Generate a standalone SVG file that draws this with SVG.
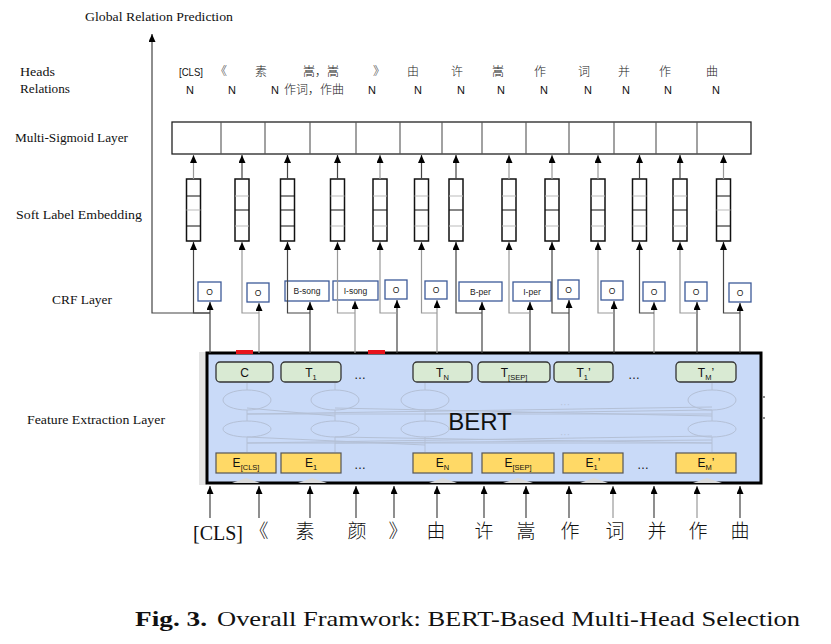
<svg xmlns="http://www.w3.org/2000/svg" width="831" height="644" viewBox="0 0 831 644">
<style>
.lbl{font-family:"Liberation Serif",serif;font-size:13px;fill:#111}
.cjk{font-family:"Noto Sans CJK SC",sans-serif;font-size:12px;fill:#222;font-weight:300}
.nn{font-family:"Liberation Sans",sans-serif;font-size:11px;fill:#111}
.tok{font-family:"Liberation Serif","Noto Sans CJK SC",serif;font-size:20px;fill:#111}
.tokc{font-family:"Noto Sans CJK SC",sans-serif;font-size:19px;fill:#111;font-weight:300}
.col{fill:#fff;stroke:#111;stroke-width:1.5}
.cl{stroke:#111;stroke-width:1}
.cg{stroke:#bbb;stroke-width:1}
.crf{fill:#fff;stroke:#3c5a99;stroke-width:1.3}
.crft{font-family:"Liberation Sans",sans-serif;font-size:8.5px;fill:#222;text-anchor:middle}
.tb{fill:#d9ead3;stroke:#333;stroke-width:1.3}
.eb{fill:#ffd966;stroke:#555;stroke-width:1.2}
.bt{font-family:"Liberation Sans",sans-serif;font-size:12px;fill:#111;text-anchor:middle}
.sub{font-size:7.5px}
.ln{fill:none;stroke:#444;stroke-width:1.2}
.lg{fill:none;stroke:#999;stroke-width:1.2}
.faint{fill:none;stroke:#b4c0d6;stroke-width:1}
</style>
<defs>
<marker id="ah" viewBox="0 0 8 7" refX="8" refY="3.5" markerWidth="8" markerHeight="7" orient="auto" markerUnits="userSpaceOnUse"><path d="M0,0 L8,3.5 L0,7 z" fill="#000"/></marker>
</defs>
<rect width="831" height="644" fill="#fff"/>

<!-- left labels -->
<g id="labels">
<text class="lbl" x="85" y="21" textLength="148" lengthAdjust="spacingAndGlyphs">Global Relation Prediction</text>
<text class="lbl" x="20" y="76" textLength="35" lengthAdjust="spacingAndGlyphs">Heads</text>
<text class="lbl" x="20" y="93" textLength="50" lengthAdjust="spacingAndGlyphs">Relations</text>
<text class="lbl" x="15" y="142" textLength="113" lengthAdjust="spacingAndGlyphs">Multi-Sigmoid Layer</text>
<text class="lbl" x="16" y="219" textLength="126" lengthAdjust="spacingAndGlyphs">Soft Label Embedding</text>
<text class="lbl" x="52" y="304" textLength="60" lengthAdjust="spacingAndGlyphs">CRF Layer</text>
<text class="lbl" x="27" y="424" textLength="138" lengthAdjust="spacingAndGlyphs">Feature Extraction Layer</text>
</g>

<!-- heads / relations -->
<g id="heads" text-anchor="middle">
<text class="nn" x="191" y="76" textLength="24" lengthAdjust="spacingAndGlyphs">[CLS]</text>
<text class="cjk" x="221" y="76">《</text>
<text class="cjk" x="261" y="76">素</text>
<text class="cjk" x="321" y="76">嵩，嵩</text>
<text class="cjk" x="379" y="76">》</text>
<text class="cjk" x="413" y="76">由</text>
<text class="cjk" x="457" y="76">许</text>
<text class="cjk" x="498" y="76">嵩</text>
<text class="cjk" x="540" y="76">作</text>
<text class="cjk" x="584" y="76">词</text>
<text class="cjk" x="624" y="76">并</text>
<text class="cjk" x="665" y="76">作</text>
<text class="cjk" x="712" y="76">曲</text>
</g>
<g id="relations" text-anchor="middle">
<text class="nn" x="190" y="94">N</text>
<text class="nn" x="232" y="94">N</text>
<text class="nn" x="275" y="94">N</text>
<text class="cjk" x="314" y="94">作词，作曲</text>
<text class="nn" x="372" y="94">N</text>
<text class="nn" x="418" y="94">N</text>
<text class="nn" x="461" y="94">N</text>
<text class="nn" x="501" y="94">N</text>
<text class="nn" x="544" y="94">N</text>
<text class="nn" x="588" y="94">N</text>
<text class="nn" x="626" y="94">N</text>
<text class="nn" x="668" y="94">N</text>
<text class="nn" x="716" y="94">N</text>
</g>

<!-- multi-sigmoid layer -->
<g id="multi-sigmoid">
<rect x="172" y="122" width="579" height="32" fill="#fff" stroke="#222" stroke-width="1.3"/>
<path d="M221,122V154M265,122V154M310,122V154M356,122V154M400,122V154M442,122V154M482,122V154M526,122V154M569,122V154M614,122V154M656,122V154M697,122V154" stroke="#555" stroke-width="1.1"/>
</g>

<!-- soft label embedding columns -->
<g id="emb1"><rect class="col" x="186.5" y="179" width="14" height="62"/><path class="cl" d="M186.5,196h14M186.5,226h14"/><path class="cg" d="M186.5,210h14"/></g>
<g id="emb2"><rect class="col" x="235" y="179" width="14" height="62"/><path class="cg" d="M235,196h14M235,226h14"/><path class="cl" d="M235,210h14"/></g>
<g id="emb3"><rect class="col" x="280.5" y="179" width="14" height="62"/><path class="cl" d="M280.5,196h14M280.5,210h14M280.5,226h14"/></g>
<g id="emb4"><rect class="col" x="330.5" y="179" width="14" height="62"/><path class="cg" d="M330.5,196h14M330.5,226h14"/><path class="cl" d="M330.5,210h14"/></g>
<g id="emb5"><rect class="col" x="373" y="179" width="14" height="62"/><path class="cg" d="M373,196h14M373,226h14"/><path class="cl" d="M373,210h14"/></g>
<g id="emb6"><rect class="col" x="414.5" y="179" width="14" height="62"/><path class="cg" d="M414.5,196h14M414.5,226h14"/><path class="cl" d="M414.5,210h14"/></g>
<g id="emb7"><rect class="col" x="449" y="179" width="14" height="62"/><path class="cg" d="M449,196h14M449,226h14"/><path class="cl" d="M449,210h14"/></g>
<g id="emb8"><rect class="col" x="502" y="179" width="14" height="62"/><path class="cg" d="M502,196h14M502,226h14"/><path class="cl" d="M502,210h14"/></g>
<g id="emb9"><rect class="col" x="545" y="179" width="14" height="62"/><path class="cg" d="M545,196h14M545,226h14"/><path class="cl" d="M545,210h14"/></g>
<g id="emb10"><rect class="col" x="591" y="179" width="14" height="62"/><path class="cg" d="M591,196h14M591,226h14"/><path class="cl" d="M591,210h14"/></g>
<g id="emb11"><rect class="col" x="632.5" y="179" width="14" height="62"/><path class="cg" d="M632.5,196h14M632.5,226h14"/><path class="cl" d="M632.5,210h14"/></g>
<g id="emb12"><rect class="col" x="673" y="179" width="14" height="62"/><path class="cg" d="M673,196h14M673,226h14"/><path class="cl" d="M673,210h14"/></g>
<g id="emb13"><rect class="col" x="716.5" y="179" width="14" height="62"/><path class="cl" d="M716.5,196h14M716.5,226h14"/><path class="cg" d="M716.5,210h14"/></g>

<!-- CRF boxes -->
<g id="crf1"><rect class="crf" x="198" y="282" width="23" height="19"/><text class="crft" x="209.5" y="295">O</text></g>
<g id="crf2"><rect class="crf" x="247" y="283" width="22" height="19"/><text class="crft" x="258" y="296">O</text></g>
<g id="crf3"><rect class="crf" x="285" y="281" width="44" height="20"/><text class="crft" x="307" y="294">B-song</text></g>
<g id="crf4"><rect class="crf" x="333" y="281" width="45" height="19"/><text class="crft" x="355.5" y="294">I-song</text></g>
<g id="crf5"><rect class="crf" x="385" y="280" width="22" height="19"/><text class="crft" x="396" y="293">O</text></g>
<g id="crf6"><rect class="crf" x="425" y="281" width="22" height="18"/><text class="crft" x="436" y="293">O</text></g>
<g id="crf7"><rect class="crf" x="459" y="282" width="43" height="19"/><text class="crft" x="480.5" y="295">B-per</text></g>
<g id="crf8"><rect class="crf" x="513" y="282" width="38" height="19"/><text class="crft" x="532" y="295">I-per</text></g>
<g id="crf9"><rect class="crf" x="558" y="280" width="21" height="19"/><text class="crft" x="568.5" y="293">O</text></g>
<g id="crf10"><rect class="crf" x="601" y="281" width="22" height="19"/><text class="crft" x="612" y="294">O</text></g>
<g id="crf11"><rect class="crf" x="643" y="282" width="22" height="19"/><text class="crft" x="654" y="295">O</text></g>
<g id="crf12"><rect class="crf" x="685" y="282" width="22" height="19"/><text class="crft" x="696" y="295">O</text></g>
<g id="crf13"><rect class="crf" x="729" y="283" width="22" height="19"/><text class="crft" x="740" y="296">O</text></g>

<!-- BERT block -->
<g id="bert">
<rect x="199" y="352" width="8" height="133" fill="#e4e4e4"/>
<rect x="207" y="353" width="554" height="130" fill="#c9daf8" stroke="#000" stroke-width="3"/>
<rect x="236" y="350" width="17" height="4" fill="#e8141c"/>
<rect x="368" y="350" width="17" height="4" fill="#e8141c"/>
<g class="faint">
<ellipse cx="247" cy="400" rx="24" ry="10"/><ellipse cx="335" cy="400" rx="24" ry="10"/><ellipse cx="425" cy="400" rx="24" ry="10"/><ellipse cx="712" cy="400" rx="24" ry="10"/>
<ellipse cx="247" cy="429" rx="24" ry="8"/><ellipse cx="335" cy="429" rx="24" ry="8"/><ellipse cx="425" cy="429" rx="24" ry="8"/><ellipse cx="712" cy="429" rx="24" ry="8"/>
<path d="M247,452V437M335,452V437M425,452V437M712,452V437M247,421V410M335,421V410M425,421V410M712,421V410M247,390V383M335,390V383M425,390V383M712,390V383"/>
<path d="M247,443L712,443M247,443L712,436M335,443L712,440M425,445L247,437M712,443L335,437M247,414L712,414M247,414L712,407M335,416L247,408M425,414L712,410M712,416L335,408"/>
</g>
<text x="560" y="408" font-family="Liberation Sans,sans-serif" font-size="10" fill="#b8c4d8">···</text>
<text x="560" y="438" font-family="Liberation Sans,sans-serif" font-size="10" fill="#b8c4d8">···</text>
<text x="480" y="430" text-anchor="middle" font-family="Liberation Sans,sans-serif" font-size="24" fill="#111">BERT</text>
<path d="M763,397h2M763,418h2" stroke="#888" stroke-width="2"/>
<g fill="#d9d9d9">
<path d="M232,483L246,478L260,483z"/><path d="M298,483L312,478L327,483z"/><path d="M429,483L443,478L457,483z"/>
<path d="M503,483L518,478L533,483z"/><path d="M580,483L594,478L608,483z"/><path d="M693,483L707,478L722,483z"/>
</g>
</g>

<g id="T-C"><rect class="tb" x="216" y="362" width="57" height="20" rx="4"/><text class="bt" x="244.5" y="377" font-size="13">C</text></g>
<g id="T-1"><rect class="tb" x="281" y="362" width="60" height="20" rx="4"/><text class="bt" x="311" y="377">T<tspan class="sub" dy="3">1</tspan></text></g>
<text class="bt" x="360" y="379">…</text>
<g id="T-N"><rect class="tb" x="413" y="362" width="59" height="20" rx="4"/><text class="bt" x="442.5" y="377">T<tspan class="sub" dy="3">N</tspan></text></g>
<g id="T-SEP"><rect class="tb" x="478" y="362" width="72" height="20" rx="4"/><text class="bt" x="514" y="377">T<tspan class="sub" dy="3">[SEP]</tspan></text></g>
<g id="T-1p"><rect class="tb" x="554" y="362" width="59" height="20" rx="4"/><text class="bt" x="583.5" y="377">T<tspan class="sub" dy="3">1</tspan><tspan dy="-3">’</tspan></text></g>
<text class="bt" x="634" y="379">…</text>
<g id="T-Mp"><rect class="tb" x="676" y="362" width="60" height="20" rx="4"/><text class="bt" x="706" y="377">T<tspan class="sub" dy="3">M</tspan><tspan dy="-3">’</tspan></text></g>

<g id="E-CLS"><rect class="eb" x="216" y="453" width="60" height="20"/><text class="bt" x="246" y="467">E<tspan class="sub" dy="3" font-size="6.5">[CLS]</tspan></text></g>
<g id="E-1"><rect class="eb" x="281" y="453" width="60" height="20"/><text class="bt" x="311" y="467">E<tspan class="sub" dy="3">1</tspan></text></g>
<text class="bt" x="360" y="469">…</text>
<g id="E-N"><rect class="eb" x="413" y="453" width="59" height="20"/><text class="bt" x="442.5" y="467">E<tspan class="sub" dy="3">N</tspan></text></g>
<g id="E-SEP"><rect class="eb" x="482" y="453" width="72" height="20"/><text class="bt" x="518" y="467">E<tspan class="sub" dy="3">[SEP]</tspan></text></g>
<g id="E-1p"><rect class="eb" x="563" y="453" width="60" height="20"/><text class="bt" x="593" y="467">E<tspan class="sub" dy="3">1</tspan><tspan dy="-3">’</tspan></text></g>
<text class="bt" x="643" y="469">…</text>
<g id="E-Mp"><rect class="eb" x="676" y="453" width="60" height="20"/><text class="bt" x="706" y="467">E<tspan class="sub" dy="3">M</tspan><tspan dy="-3">’</tspan></text></g>

<!-- input tokens -->
<g id="tokens">
<text class="tok" x="193" y="540">[CLS]</text>
<text class="tokc" x="259" y="538" text-anchor="middle">《</text>
<text class="tokc" x="305" y="538" text-anchor="middle">素</text>
<text class="tokc" x="357" y="538" text-anchor="middle">颜</text>
<text class="tokc" x="398" y="538" text-anchor="middle">》</text>
<text class="tokc" x="436" y="538" text-anchor="middle">由</text>
<text class="tokc" x="484" y="538" text-anchor="middle">许</text>
<text class="tokc" x="526" y="538" text-anchor="middle">嵩</text>
<text class="tokc" x="570" y="538" text-anchor="middle">作</text>
<text class="tokc" x="615" y="538" text-anchor="middle">词</text>
<text class="tokc" x="657" y="538" text-anchor="middle">并</text>
<text class="tokc" x="698" y="538" text-anchor="middle">作</text>
<text class="tokc" x="740" y="538" text-anchor="middle">曲</text>
</g>

<!-- connectors -->
<g id="connectors">
<path class="ln" d="M210,313H152V34" marker-end="url(#ah)"/>
<path class="lg" d="M193.5,179V155" marker-end="url(#ah)"/>
<path class="ln" d="M242,179V155" marker-end="url(#ah)"/>
<path class="ln" d="M287.5,179V155" marker-end="url(#ah)"/>
<path class="ln" d="M337.5,179V155" marker-end="url(#ah)"/>
<path class="lg" d="M380,179V155" marker-end="url(#ah)"/>
<path class="ln" d="M421.5,179V155" marker-end="url(#ah)"/>
<path class="ln" d="M456,179V155" marker-end="url(#ah)"/>
<path class="lg" d="M509,179V155" marker-end="url(#ah)"/>
<path class="lg" d="M552,179V155" marker-end="url(#ah)"/>
<path class="lg" d="M598,179V155" marker-end="url(#ah)"/>
<path class="ln" d="M639.5,179V155" marker-end="url(#ah)"/>
<path class="ln" d="M680,179V155" marker-end="url(#ah)"/>
<path class="lg" d="M723.5,179V155" marker-end="url(#ah)"/>
<path class="ln" d="M210,353V302" marker-end="url(#ah)"/>
<path class="lg" d="M259,353V303" marker-end="url(#ah)"/>
<path class="ln" d="M310,353V302" marker-end="url(#ah)"/>
<path class="lg" d="M355,353V301" marker-end="url(#ah)"/>
<path class="ln" d="M397,353V300" marker-end="url(#ah)"/>
<path class="lg" d="M437,353V300" marker-end="url(#ah)"/>
<path class="ln" d="M482,353V302" marker-end="url(#ah)"/>
<path class="ln" d="M530,353V302" marker-end="url(#ah)"/>
<path class="ln" d="M569,353V300" marker-end="url(#ah)"/>
<path class="ln" d="M614,353V301" marker-end="url(#ah)"/>
<path class="lg" d="M654,353V302" marker-end="url(#ah)"/>
<path class="ln" d="M697,353V302" marker-end="url(#ah)"/>
<path class="ln" d="M740,353V303" marker-end="url(#ah)"/>
<path class="ln" d="M210,313H193.5V242" marker-end="url(#ah)"/>
<path class="lg" d="M259,313H242V242" marker-end="url(#ah)"/>
<path class="ln" d="M310,313H287.5V242" marker-end="url(#ah)"/>
<path class="lg" d="M355,313H337.5V242" marker-end="url(#ah)"/>
<path class="lg" d="M397,313H380V242" marker-end="url(#ah)"/>
<path class="lg" d="M437,313H421.5V242" marker-end="url(#ah)"/>
<path class="ln" d="M482,313H456V242" marker-end="url(#ah)"/>
<path class="lg" d="M530,313H509V242" marker-end="url(#ah)"/>
<path class="ln" d="M569,313H552V242" marker-end="url(#ah)"/>
<path class="lg" d="M614,313H598V242" marker-end="url(#ah)"/>
<path class="ln" d="M654,313H639.5V242" marker-end="url(#ah)"/>
<path class="lg" d="M697,313H680V242" marker-end="url(#ah)"/>
<path class="ln" d="M740,313H723.5V242" marker-end="url(#ah)"/>
<path class="ln" d="M210,518V486" marker-end="url(#ah)"/>
<path class="ln" d="M259,518V486" marker-end="url(#ah)"/>
<path class="ln" d="M310,518V486" marker-end="url(#ah)"/>
<path class="ln" d="M356,518V486" marker-end="url(#ah)"/>
<path class="ln" d="M394,518V486" marker-end="url(#ah)"/>
<path class="ln" d="M437,518V486" marker-end="url(#ah)"/>
<path class="ln" d="M484,518V486" marker-end="url(#ah)"/>
<path class="ln" d="M526,518V486" marker-end="url(#ah)"/>
<path class="ln" d="M569,518V486" marker-end="url(#ah)"/>
<path class="lg" d="M613,518V486" marker-end="url(#ah)"/>
<path class="ln" d="M654,518V486" marker-end="url(#ah)"/>
<path class="lg" d="M697,518V486" marker-end="url(#ah)"/>
<path class="ln" d="M740,518V486" marker-end="url(#ah)"/>
</g>

<!-- caption -->
<g id="caption">
<text x="135" y="626" font-family="Liberation Serif,serif" font-size="22" font-weight="bold" fill="#111" textLength="72" lengthAdjust="spacingAndGlyphs">Fig. 3.</text>
<text x="217" y="626" font-family="Liberation Serif,serif" font-size="22" fill="#111" textLength="583" lengthAdjust="spacingAndGlyphs">Overall Framwork: BERT-Based Multi-Head Selection</text>
</g>
</svg>
